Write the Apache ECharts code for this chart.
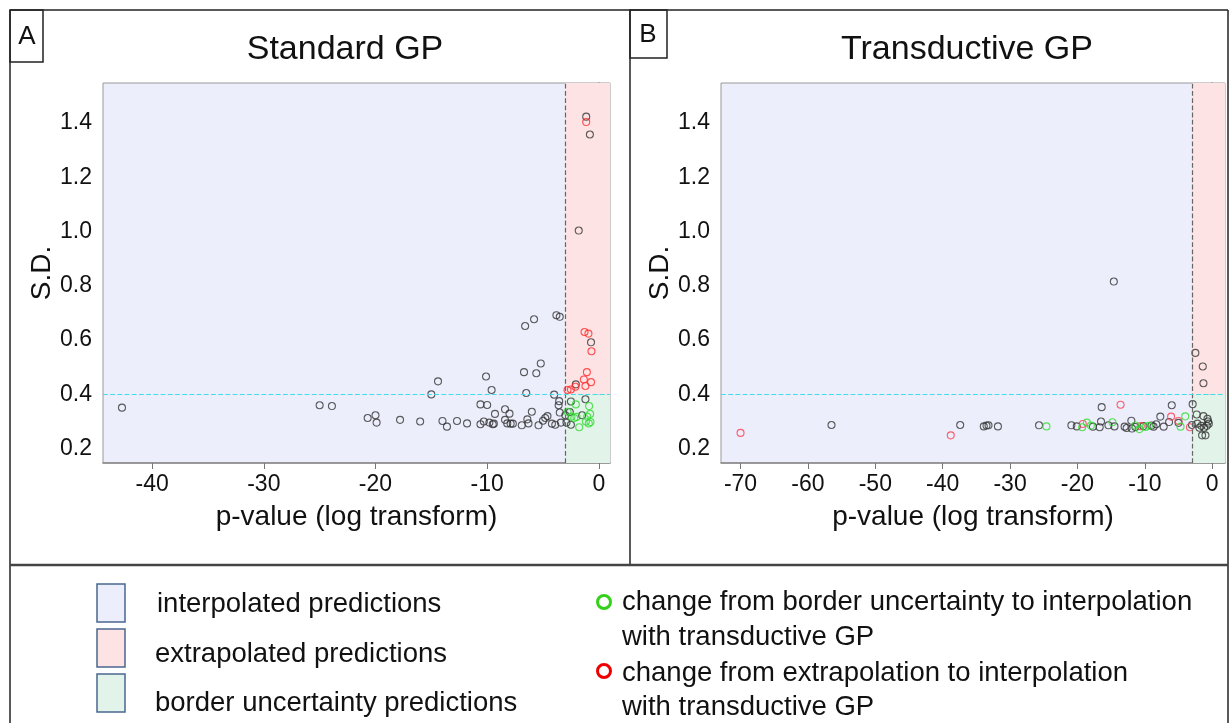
<!DOCTYPE html>
<html>
<head>
<meta charset="utf-8">
<script src="https://cdn.jsdelivr.net/npm/echarts@6/dist/echarts.min.js"></script>
<style>
html, body { margin: 0; padding: 0; background: #fff; }
#chart { width: 1230px; height: 723px; }
</style>
</head>
<body>
<div id="chart"></div>
<script>
// panel A : standard GP  [log p-value, S.D.]
var aBlack = [
	[-42.7, 0.351], [-25.0, 0.360], [-23.9, 0.357], [-20.7, 0.313], [-20.0, 0.323], [-19.9, 0.296],
	[-17.8, 0.306], [-16.0, 0.300], [-15.0, 0.400], [-14.4, 0.448], [-14.0, 0.302], [-13.6, 0.281],
	[-12.7, 0.302], [-11.8, 0.293], [-10.6, 0.363], [-10.6, 0.290], [-10.3, 0.300], [-10.1, 0.466],
	[-10.0, 0.361], [-9.8, 0.296], [-9.6, 0.416], [-9.5, 0.290], [-9.4, 0.292], [-9.3, 0.328],
	[-8.4, 0.306], [-8.4, 0.345], [-8.2, 0.293], [-8.0, 0.329], [-7.9, 0.292], [-7.7, 0.292],
	[-6.9, 0.286], [-6.7, 0.482], [-6.6, 0.652], [-6.5, 0.405], [-6.4, 0.308], [-6.3, 0.293],
	[-6.0, 0.336], [-5.8, 0.677], [-5.6, 0.478], [-5.4, 0.286], [-5.2, 0.514], [-5.0, 0.303],
	[-4.8, 0.313], [-4.6, 0.320], [-4.2, 0.292], [-4.0, 0.399], [-3.9, 0.288], [-3.8, 0.692],
	[-3.6, 0.360], [-3.55, 0.375], [-3.5, 0.686], [-3.5, 0.333], [-3.4, 0.296], [-3.0, 0.323],
	[-2.9, 0.296], [-2.6, 0.335], [-2.5, 0.374], [-2.5, 0.288], [-2.06, 0.437], [-1.8, 1.004],
	[-1.5, 0.323], [-1.2, 0.382], [-1.13, 1.424], [-0.8, 1.358], [-0.7, 0.592]
];
var aRed = [
	[-1.13, 1.404], [-1.28, 0.630], [-0.93, 0.624], [-0.66, 0.559], [-1.07, 0.482], [-1.34, 0.455],
	[-1.2, 0.431], [-0.7, 0.445], [-2.1, 0.428], [-2.8, 0.416], [-2.5, 0.418]
];
var aGreen = [
	[-2.06, 0.363], [-0.87, 0.357], [-2.8, 0.336], [-2.45, 0.318], [-2.2, 0.313], [-2.0, 0.317],
	[-1.76, 0.279], [-1.16, 0.300], [-1.04, 0.318], [-0.78, 0.328], [-0.75, 0.298], [-0.9, 0.293]
];

// panel B : transductive GP
var bBlack = [
	[-56.5, 0.287], [-37.4, 0.287], [-33.9, 0.282], [-33.5, 0.285], [-33.2, 0.286], [-31.8, 0.282],
	[-25.7, 0.286], [-20.9, 0.286], [-20.1, 0.282], [-17.7, 0.281], [-16.7, 0.279], [-16.5, 0.300],
	[-16.4, 0.353], [-15.4, 0.286], [-14.5, 0.282], [-14.6, 0.816], [-13.0, 0.281], [-12.7, 0.276],
	[-12.0, 0.303], [-11.9, 0.274], [-11.4, 0.280], [-10.2, 0.283], [-9.0, 0.285], [-8.7, 0.281],
	[-8.3, 0.290], [-7.7, 0.318], [-7.2, 0.281], [-6.4, 0.298], [-6.0, 0.360], [-5.0, 0.295],
	[-3.0, 0.287], [-2.9, 0.364], [-2.5, 0.553], [-1.4, 0.503], [-1.3, 0.441], [-2.3, 0.326],
	[-1.3, 0.320], [-0.7, 0.310], [-2.2, 0.292], [-1.6, 0.284], [-0.8, 0.284], [-1.9, 0.277],
	[-1.2, 0.277], [-1.5, 0.249], [-1.0, 0.249], [-0.5, 0.292], [-0.6, 0.300]
];
var bRed = [
	[-70.0, 0.258], [-38.8, 0.249], [-19.2, 0.291], [-13.6, 0.362], [-10.6, 0.283], [-6.1, 0.318],
	[-5.0, 0.302], [-3.3, 0.279]
];
var bGreen = [
	[-24.6, 0.282], [-18.6, 0.296], [-19.3, 0.279], [-18.0, 0.285], [-14.8, 0.297], [-11.4, 0.285],
	[-10.8, 0.272], [-9.9, 0.280], [-9.4, 0.284], [-4.7, 0.281], [-4.0, 0.319]
];

var xTicksA = [-40, -30, -20, -10, 0];
var xTicksB = [-70, -60, -50, -40, -30, -20, -10, 0];
var yTicks = [0.2, 0.4, 0.6, 0.8, 1.0, 1.2, 1.4];
var pCut = -3;      // p-value threshold (log)
var sdCut = 0.4;    // S.D. threshold
var xRangeA = [-44.4, 1.0];
var xRangeB = [-72.9, 1.9];
var yRange = [0.147, 1.548];

var FONT = 'Liberation Sans, Arial, Helvetica, sans-serif';

function xAxisCfg(gi, range, ticks) {
	return {
		type: 'value', gridIndex: gi, min: range[0], max: range[1],
		name: 'p-value (log transform)', nameLocation: 'middle', nameGap: 40,
		nameTextStyle: { fontSize: 28, color: '#111', fontFamily: FONT },
		axisLine: { onZero: false, lineStyle: { color: '#888', width: 1.5 } },
		axisTick: { show: true, length: 6, customValues: ticks, lineStyle: { color: '#777' } },
		axisLabel: { customValues: ticks, fontSize: 23, color: '#111', fontFamily: FONT, margin: 10 },
		splitLine: { show: false }
	};
}

function yAxisCfg(gi) {
	return {
		type: 'value', gridIndex: gi, min: yRange[0], max: yRange[1],
		name: 'S.D.', nameLocation: 'middle', nameGap: 44,
		nameTextStyle: { fontSize: 28, color: '#111', fontFamily: FONT },
		axisLine: { lineStyle: { color: '#888', width: 1.5 } },
		axisTick: { show: true, length: 6, customValues: yTicks, lineStyle: { color: '#777' } },
		axisLabel: {
			customValues: yTicks, fontSize: 23, color: '#111', fontFamily: FONT, margin: 11,
			formatter: function (v) { return v.toFixed(1); }
		},
		splitLine: { show: false }
	};
}

function pointSeries(gi, data, color) {
	return {
		type: 'scatter', xAxisIndex: gi, yAxisIndex: gi, data: data,
		symbol: 'circle', symbolSize: 7, silent: true,
		itemStyle: { color: 'rgba(0,0,0,0)', borderColor: color, borderWidth: 1.1 }
	};
}

function regionSeries(gi, range) {
	return {
		type: 'scatter', xAxisIndex: gi, yAxisIndex: gi, data: [[range[1], yRange[1]]],
		symbolSize: 0, silent: true, z: 1,
		markArea: {
			silent: true,
			data: [
				[{ coord: [pCut, sdCut], itemStyle: { color: '#fde3e4' } }, { coord: [range[1], yRange[1]] }],
				[{ coord: [pCut, yRange[0]], itemStyle: { color: '#e2f3e9' } }, { coord: [range[1], sdCut] }]
			]
		},
		markLine: {
			silent: true, symbol: 'none', label: { show: false },
			data: [
				{ xAxis: pCut, lineStyle: { color: '#666', type: 'dashed', width: 1.2 } },
				{ yAxis: sdCut, lineStyle: { color: '#3fdcee', type: 'dashed', width: 1.2 } }
			]
		}
	};
}

function txt(x, y, s, size, align) {
	return {
		type: 'text', silent: true,
		style: { x: x, y: y, text: s, font: size + 'px ' + FONT, fill: '#111',
			textAlign: align || 'left', textVerticalAlign: 'middle', align: align || 'left', verticalAlign: 'middle' }
	};
}
function ln(x1, y1, x2, y2, w, c) {
	return { type: 'line', silent: true, shape: { x1: x1, y1: y1, x2: x2, y2: y2 }, style: { stroke: c || '#222', lineWidth: w || 1.5 } };
}
function box(x, y, w, h, fill, stroke) {
	return { type: 'rect', silent: true, shape: { x: x, y: y, width: w, height: h }, style: { fill: fill, stroke: stroke, lineWidth: 1.5 } };
}

var chart = echarts.init(document.getElementById('chart'));
chart.setOption({
	animation: false,
	backgroundColor: '#fff',
	grid: [
		{ left: 103, top: 83, width: 507, height: 380, show: true, backgroundColor: '#eceefb', borderColor: '#999', borderWidth: 1 },
		{ left: 721, top: 83, width: 504, height: 380, show: true, backgroundColor: '#eceefb', borderColor: '#999', borderWidth: 1 }
	],
	xAxis: [xAxisCfg(0, xRangeA, xTicksA), xAxisCfg(1, xRangeB, xTicksB)],
	yAxis: [yAxisCfg(0), yAxisCfg(1)],
	series: [
		regionSeries(0, xRangeA),
		pointSeries(0, aBlack, '#333'),
		pointSeries(0, aRed, '#ff2a2a'),
		pointSeries(0, aGreen, '#2fdc2f'),
		regionSeries(1, xRangeB),
		pointSeries(1, bBlack, '#333'),
		pointSeries(1, bRed, '#ff3b4b'),
		pointSeries(1, bGreen, '#2fdc2f')
	],
	graphic: [
		// frame
		ln(10, 10, 1228, 10), ln(10, 10, 10, 723), ln(1228, 10, 1228, 723),
		ln(630, 10, 630, 565), ln(10, 565, 1228, 565, 2.5, '#444'),
		box(10, 10, 33, 52, 'none', '#222'),
		box(630, 10, 37, 48, 'none', '#222'),
		txt(27, 37, 'A', 26, 'center'),
		txt(648, 35, 'B', 26, 'center'),
		txt(345, 50, 'Standard GP', 34, 'center'),
		txt(967, 50, 'Transductive GP', 34, 'center'),
		// legend
		box(97, 584, 28, 38, '#eceefb', '#4a6790'),
		box(97, 629, 28, 38, '#fde3e4', '#4a6790'),
		box(97, 674, 28, 38, '#e2f3e9', '#4a6790'),
		txt(157, 604, 'interpolated predictions', 27.5),
		txt(155, 654, 'extrapolated predictions', 27.5),
		txt(155, 703, 'border uncertainty predictions', 27.5),
		{ type: 'circle', silent: true, shape: { cx: 604, cy: 602, r: 6.5 }, style: { fill: 'none', stroke: '#33d11a', lineWidth: 3 } },
		{ type: 'circle', silent: true, shape: { cx: 604, cy: 671, r: 6.5 }, style: { fill: 'none', stroke: '#ee0000', lineWidth: 3 } },
		txt(622, 602, 'change from border uncertainty to interpolation', 27.5),
		txt(622, 637, 'with transductive GP', 27.5),
		txt(622, 673, 'change from extrapolation to interpolation', 27.5),
		txt(622, 707, 'with transductive GP', 27.5)
	]
});
</script>
</body>
</html>
